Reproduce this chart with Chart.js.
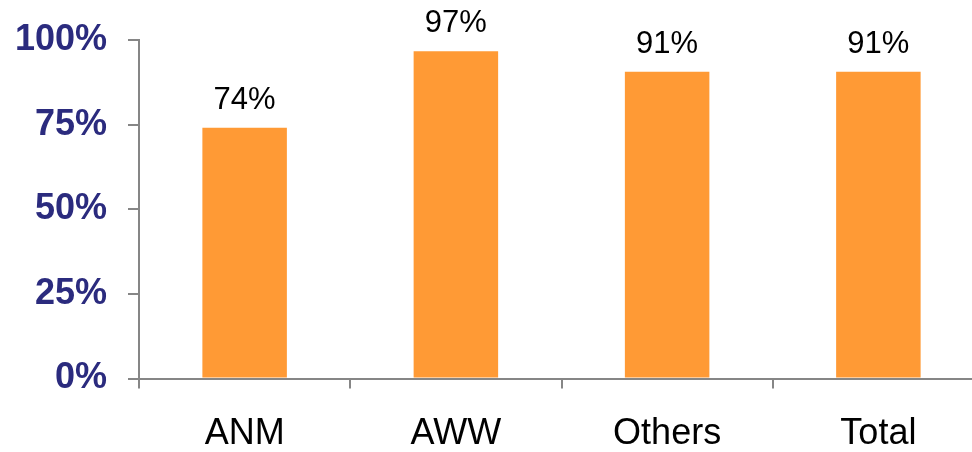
<!DOCTYPE html>
<html>
<head>
<meta charset="utf-8">
<script src="https://cdn.jsdelivr.net/npm/chart.js@4"></script>
<style>
  html, body { margin: 0; padding: 0; background: #fff; overflow: hidden; }
  #wrap { width: 984px; height: 452px; position: relative; }
</style>
</head>
<body>
<div id="wrap"><canvas id="chart"></canvas></div>
<script>
// data
const categories = ['ANM', 'AWW', 'Others', 'Total'];
const coverage = [74.1, 96.7, 90.6, 90.6];
const shownLabels = ['74%', '97%', '91%', '91%'];
const yTicks = [0, 25, 50, 75, 100];

const FONT = '"Liberation Sans", Arial, Helvetica, sans-serif';
const AXIS_GREY = '#868686';

//--------------------------------------------------
// value labels above the bars
//--------------------------------------------------
const barLabels = {
    id: 'barLabels',
    afterDatasetsDraw(chart) {
        const ctx = chart.ctx;
        const meta = chart.getDatasetMeta(0);
        ctx.save();
        ctx.font = '31px ' + FONT;
        ctx.fillStyle = '#000';
        ctx.textAlign = 'center';
        ctx.textBaseline = 'alphabetic';
        meta.data.forEach((bar, i) => {
            ctx.fillText(shownLabels[i], bar.x, bar.y - 19);
        });
        ctx.restore();
    }
};

const ctx = document.getElementById('chart').getContext('2d');
const chart = new Chart(ctx, {
    type: 'bar',
    data: {
        labels: categories,
        datasets: [{
            data: coverage,
            backgroundColor: '#FF9A35',
            borderWidth: 0,
            categoryPercentage: 1.0,
            barPercentage: 0.4
        }]
    },
    options: {
        responsive: true,
        maintainAspectRatio: false,
        animation: false,
        devicePixelRatio: 1,
        layout: { padding: { top: 40, right: 0, bottom: 0, left: 0 } },
        plugins: {
            legend: { display: false },
            tooltip: { enabled: false }
        },
        scales: {
            x: {
                offset: true,
                grid: {
                    offset: true,
                    drawOnChartArea: false,
                    drawTicks: true,
                    tickLength: 10,
                    color: AXIS_GREY,
                    lineWidth: 2
                },
                border: { display: true, color: AXIS_GREY, width: 2 },
                ticks: {
                    color: '#000',
                    padding: 24,
                    font: { family: FONT, size: 36 }
                },
                afterFit(scale) {
                    scale.height = 73.5;
                    scale.paddingLeft = 0;
                    scale.paddingRight = 0;
                }
            },
            y: {
                min: 0,
                max: 100,
                afterBuildTicks(scale) {
                    scale.ticks = yTicks.map(v => ({ value: v }));
                },
                grid: {
                    drawOnChartArea: false,
                    drawTicks: true,
                    tickLength: 11,
                    color: AXIS_GREY,
                    lineWidth: 2
                },
                border: { display: true, color: AXIS_GREY, width: 2 },
                ticks: {
                    color: '#2B2B7E',
                    padding: 21,
                    font: { family: FONT, size: 36, weight: 'bold' },
                    callback: v => v + '%'
                },
                afterFit(scale) {
                    scale.width = 139;
                    scale.paddingTop = 0;
                    scale.paddingBottom = 0;
                }
            }
        }
    },
    plugins: [barLabels]
});
</script>
</body>
</html>
